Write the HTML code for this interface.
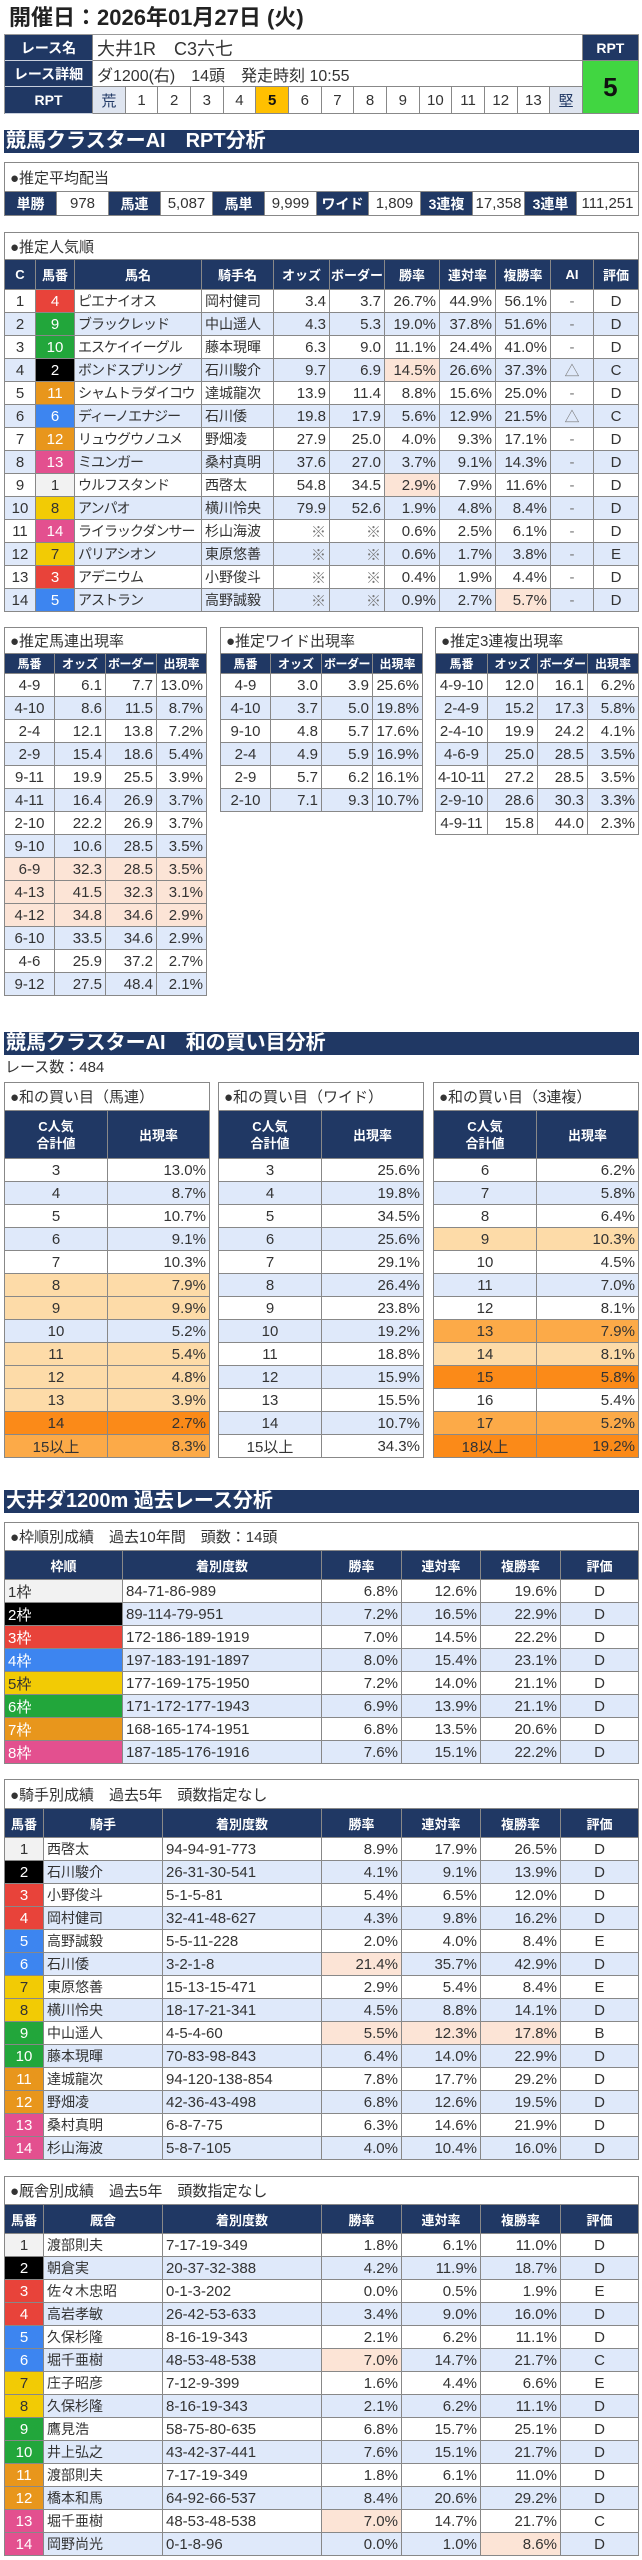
<!DOCTYPE html>
<html><head><meta charset="utf-8">
<style>
*{box-sizing:border-box;margin:0;padding:0}
body{width:642px;height:2560px;position:relative;background:#fff;font-family:"Liberation Sans","Noto Sans CJK JP",sans-serif;color:#333;overflow:hidden}
.a{position:absolute}
.g{position:absolute;display:grid;border-top:1px solid #888;border-left:1px solid #888}
.g>div{border-right:1px solid #888;border-bottom:1px solid #888;display:flex;align-items:center;justify-content:center;white-space:nowrap;overflow:hidden;font-size:15px;background:#fff}
.g>.t{grid-column:1/-1;justify-content:flex-start;padding-left:5px;font-size:15px;color:#333}
.g>.h{background:#203864;color:#fff;font-weight:bold;font-size:13px}
.g>.l{justify-content:flex-start;padding-left:3px}
.g>.r{justify-content:flex-end;padding-right:3px}
.g>.b{background:#dfe9fa}
.g>.p{background:#fce4d6}
.g>.o1{background:#fddba8}
.g>.o2{background:#fcaa48}
.g>.o3{background:#fb8a18}
.g>.w1{background:#f2f2f2;color:#333}
.g>.w2{background:#000;color:#fff}
.g>.w3{background:#e8433a;color:#fff}
.g>.w4{background:#3d85f0;color:#fff}
.g>.w5{background:#f2cb05;color:#333}
.g>.w6{background:#22a63b;color:#fff}
.g>.w7{background:#e8961c;color:#fff}
.g>.w8{background:#e3508f;color:#fff}
.g>.k{font-size:14px}
.g>.n{font-size:14px;letter-spacing:-1px}
.g>.d{color:#777}
.g>.rk{background:#dfe5f0;color:#203864}
.g>.y{background:#ffc000;font-weight:bold;color:#111}
.g>.hl{font-size:14px;border-bottom-color:#c8cfdc}
.bar{position:absolute;left:4px;width:635px;height:23px;background:#203864;color:#fff;font-weight:bold;font-size:20px;line-height:23px;padding-left:2px;white-space:nowrap}
.two{display:block;text-align:center;line-height:17px}
</style></head><body>

<div class="a" style="top:5px;left:9px;font-size:22px;font-weight:bold;line-height:26px;color:#222;white-space:nowrap">開催日：2026年01月27日 (火)</div>

<div class="g" style="top:34px;left:4px;grid-template-columns:88px repeat(15,32.667px) 56px;grid-template-rows:26px 26px 27px;border-color:#999">
<div class="h hl">レース名</div>
<div class="l" style="grid-column:span 15;font-size:18px;padding-left:4px">大井1R　C3六七</div>
<div class="h" style="font-size:14px">RPT</div>
<div class="h hl">レース詳細</div>
<div class="l" style="grid-column:span 15;font-size:16px;padding-left:4px">ダ1200(右)　14頭　発走時刻 10:55</div>
<div style="grid-row:span 2;background:#41d641;font-size:26px;font-weight:bold;color:#111">5</div>
<div class="h hl">RPT</div>
<div class="rk">荒</div><div>1</div><div>2</div><div>3</div><div>4</div><div class="y">5</div><div>6</div><div>7</div><div>8</div><div>9</div><div>10</div><div>11</div><div>12</div><div>13</div><div class="rk">堅</div>
</div>

<div class="bar" style="top:130px">競馬クラスターAI　RPT分析</div>

<div class="g" style="top:162px;left:4px;grid-template-columns:repeat(11,52px) 62px;grid-template-rows:29px 24px">
<div class="t">●推定平均配当</div>
<div class="h" style="font-size:14px">単勝</div><div>978</div><div class="h" style="font-size:14px">馬連</div><div>5,087</div><div class="h" style="font-size:14px">馬単</div><div>9,999</div><div class="h" style="font-size:14px">ワイド</div><div>1,809</div><div class="h" style="font-size:14px">3連複</div><div>17,358</div><div class="h" style="font-size:14px">3連単</div><div>111,251</div>
</div>

<div class="g" style="top:232px;left:4px;grid-template-columns:31px 39px 127px 72px 56px 55px 55px 56px 55px 43px 45px;grid-template-rows:27px 30px repeat(14,23px)">
<div class="t">●推定人気順</div>
<div class="h">C</div><div class="h">馬番</div><div class="h">馬名</div><div class="h">騎手名</div><div class="h">オッズ</div><div class="h">ボーダー</div><div class="h">勝率</div><div class="h">連対率</div><div class="h">複勝率</div><div class="h">AI</div><div class="h">評価</div>

<div>1</div><div class="w3">4</div><div class="l n">ピエナイオス</div><div class="l k">岡村健司</div><div class="r">3.4</div><div class="r">3.7</div><div class="r">26.7%</div><div class="r">44.9%</div><div class="r">56.1%</div><div class="d">-</div><div>D</div>

<div class="b">2</div><div class="w6">9</div><div class="l n b">ブラックレッド</div><div class="l k b">中山遥人</div><div class="r b">4.3</div><div class="r b">5.3</div><div class="r b">19.0%</div><div class="r b">37.8%</div><div class="r b">51.6%</div><div class="d b">-</div><div class="b">D</div>

<div>3</div><div class="w6">10</div><div class="l n">エスケイイーグル</div><div class="l k">藤本現暉</div><div class="r">6.3</div><div class="r">9.0</div><div class="r">11.1%</div><div class="r">24.4%</div><div class="r">41.0%</div><div class="d">-</div><div>D</div>

<div class="b">4</div><div class="w2">2</div><div class="l n b">ボンドスプリング</div><div class="l k b">石川駿介</div><div class="r b">9.7</div><div class="r b">6.9</div><div class="r p">14.5%</div><div class="r b">26.6%</div><div class="r b">37.3%</div><div class="d b">△</div><div class="b">C</div>

<div>5</div><div class="w7">11</div><div class="l n">シャムトラダイコウ</div><div class="l k">達城龍次</div><div class="r">13.9</div><div class="r">11.4</div><div class="r">8.8%</div><div class="r">15.6%</div><div class="r">25.0%</div><div class="d">-</div><div>D</div>

<div class="b">6</div><div class="w4">6</div><div class="l n b">ディーノエナジー</div><div class="l k b">石川倭</div><div class="r b">19.8</div><div class="r b">17.9</div><div class="r b">5.6%</div><div class="r b">12.9%</div><div class="r b">21.5%</div><div class="d b">△</div><div class="b">C</div>

<div>7</div><div class="w7">12</div><div class="l n">リュウグウノユメ</div><div class="l k">野畑凌</div><div class="r">27.9</div><div class="r">25.0</div><div class="r">4.0%</div><div class="r">9.3%</div><div class="r">17.1%</div><div class="d">-</div><div>D</div>

<div class="b">8</div><div class="w8">13</div><div class="l n b">ミユンガー</div><div class="l k b">桑村真明</div><div class="r b">37.6</div><div class="r b">27.0</div><div class="r b">3.7%</div><div class="r b">9.1%</div><div class="r b">14.3%</div><div class="d b">-</div><div class="b">D</div>

<div>9</div><div class="w1">1</div><div class="l n">ウルフスタンド</div><div class="l k">西啓太</div><div class="r">54.8</div><div class="r">34.5</div><div class="r p">2.9%</div><div class="r">7.9%</div><div class="r">11.6%</div><div class="d">-</div><div>D</div>

<div class="b">10</div><div class="w5">8</div><div class="l n b">アンパオ</div><div class="l k b">横川怜央</div><div class="r b">79.9</div><div class="r b">52.6</div><div class="r b">1.9%</div><div class="r b">4.8%</div><div class="r b">8.4%</div><div class="d b">-</div><div class="b">D</div>

<div>11</div><div class="w8">14</div><div class="l n">ライラックダンサー</div><div class="l k">杉山海波</div><div class="r d">※</div><div class="r d">※</div><div class="r">0.6%</div><div class="r">2.5%</div><div class="r">6.1%</div><div class="d">-</div><div>D</div>

<div class="b">12</div><div class="w5">7</div><div class="l n b">パリアシオン</div><div class="l k b">東原悠善</div><div class="r d b">※</div><div class="r d b">※</div><div class="r b">0.6%</div><div class="r b">1.7%</div><div class="r b">3.8%</div><div class="d b">-</div><div class="b">E</div>

<div>13</div><div class="w3">3</div><div class="l n">アデニウム</div><div class="l k">小野俊斗</div><div class="r d">※</div><div class="r d">※</div><div class="r">0.4%</div><div class="r">1.9%</div><div class="r">4.4%</div><div class="d">-</div><div>D</div>

<div class="b">14</div><div class="w4">5</div><div class="l n b">アストラン</div><div class="l k b">高野誠毅</div><div class="r d b">※</div><div class="r d b">※</div><div class="r b">0.9%</div><div class="r b">2.7%</div><div class="r p">5.7%</div><div class="d b">-</div><div class="b">D</div>
</div>

<!-- small tables -->
<div class="g" style="top:627px;left:4px;grid-template-columns:50px 51px 51px 50px;grid-template-rows:26px 20px repeat(14,23px)">
<div class="t">●推定馬連出現率</div>
<div class="h" style="font-size:12px">馬番</div><div class="h" style="font-size:12px">オッズ</div><div class="h" style="font-size:12px;letter-spacing:-0.5px">ボーダー</div><div class="h" style="font-size:12px">出現率</div>
<div>4-9</div><div class="r">6.1</div><div class="r">7.7</div><div class="r">13.0%</div>
<div class="b">4-10</div><div class="r b">8.6</div><div class="r b">11.5</div><div class="r b">8.7%</div>
<div>2-4</div><div class="r">12.1</div><div class="r">13.8</div><div class="r">7.2%</div>
<div class="b">2-9</div><div class="r b">15.4</div><div class="r b">18.6</div><div class="r b">5.4%</div>
<div>9-11</div><div class="r">19.9</div><div class="r">25.5</div><div class="r">3.9%</div>
<div class="b">4-11</div><div class="r b">16.4</div><div class="r b">26.9</div><div class="r b">3.7%</div>
<div>2-10</div><div class="r">22.2</div><div class="r">26.9</div><div class="r">3.7%</div>
<div class="b">9-10</div><div class="r b">10.6</div><div class="r b">28.5</div><div class="r b">3.5%</div>
<div class="p">6-9</div><div class="r p">32.3</div><div class="r p">28.5</div><div class="r p">3.5%</div>
<div class="p">4-13</div><div class="r p">41.5</div><div class="r p">32.3</div><div class="r p">3.1%</div>
<div class="p">4-12</div><div class="r p">34.8</div><div class="r p">34.6</div><div class="r p">2.9%</div>
<div class="b">6-10</div><div class="r b">33.5</div><div class="r b">34.6</div><div class="r b">2.9%</div>
<div>4-6</div><div class="r">25.9</div><div class="r">37.2</div><div class="r">2.7%</div>
<div class="b">9-12</div><div class="r b">27.5</div><div class="r b">48.4</div><div class="r b">2.1%</div>
</div>

<div class="g" style="top:627px;left:220px;grid-template-columns:50px 51px 51px 50px;grid-template-rows:26px 20px repeat(6,23px)">
<div class="t">●推定ワイド出現率</div>
<div class="h" style="font-size:12px">馬番</div><div class="h" style="font-size:12px">オッズ</div><div class="h" style="font-size:12px;letter-spacing:-0.5px">ボーダー</div><div class="h" style="font-size:12px">出現率</div>
<div>4-9</div><div class="r">3.0</div><div class="r">3.9</div><div class="r">25.6%</div>
<div class="b">4-10</div><div class="r b">3.7</div><div class="r b">5.0</div><div class="r b">19.8%</div>
<div>9-10</div><div class="r">4.8</div><div class="r">5.7</div><div class="r">17.6%</div>
<div class="b">2-4</div><div class="r b">4.9</div><div class="r b">5.9</div><div class="r b">16.9%</div>
<div>2-9</div><div class="r">5.7</div><div class="r">6.2</div><div class="r">16.1%</div>
<div class="b">2-10</div><div class="r b">7.1</div><div class="r b">9.3</div><div class="r b">10.7%</div>
</div>

<div class="g" style="top:627px;left:435px;grid-template-columns:52px 50px 50px 51px;grid-template-rows:26px 20px repeat(7,23px)">
<div class="t">●推定3連複出現率</div>
<div class="h" style="font-size:12px">馬番</div><div class="h" style="font-size:12px">オッズ</div><div class="h" style="font-size:12px;letter-spacing:-0.5px">ボーダー</div><div class="h" style="font-size:12px">出現率</div>
<div>4-9-10</div><div class="r">12.0</div><div class="r">16.1</div><div class="r">6.2%</div>
<div class="b">2-4-9</div><div class="r b">15.2</div><div class="r b">17.3</div><div class="r b">5.8%</div>
<div>2-4-10</div><div class="r">19.9</div><div class="r">24.2</div><div class="r">4.1%</div>
<div class="b">4-6-9</div><div class="r b">25.0</div><div class="r b">28.5</div><div class="r b">3.5%</div>
<div style="letter-spacing:-0.5px">4-10-11</div><div class="r">27.2</div><div class="r">28.5</div><div class="r">3.5%</div>
<div class="b">2-9-10</div><div class="r b">28.6</div><div class="r b">30.3</div><div class="r b">3.3%</div>
<div>4-9-11</div><div class="r">15.8</div><div class="r">44.0</div><div class="r">2.3%</div>
</div>

<div class="bar" style="top:1032px">競馬クラスターAI　和の買い目分析</div>
<div class="a" style="top:1058px;left:5px;font-size:15px;line-height:20px">レース数：484</div>

<div class="g" style="top:1082px;left:4px;grid-template-columns:103px 102px;grid-template-rows:28px 48px repeat(13,23px)">
<div class="t">●和の買い目（馬連）</div>
<div class="h"><span class="two">C人気<br>合計値</span></div><div class="h">出現率</div>
<div>3</div><div class="r">13.0%</div>
<div class="b">4</div><div class="r b">8.7%</div>
<div>5</div><div class="r">10.7%</div>
<div class="b">6</div><div class="r b">9.1%</div>
<div>7</div><div class="r">10.3%</div>
<div class="o1">8</div><div class="r o1">7.9%</div>
<div class="o1">9</div><div class="r o1">9.9%</div>
<div class="b">10</div><div class="r b">5.2%</div>
<div class="o1">11</div><div class="r o1">5.4%</div>
<div class="o1">12</div><div class="r o1">4.8%</div>
<div class="o1">13</div><div class="r o1">3.9%</div>
<div class="o3">14</div><div class="r o3">2.7%</div>
<div class="o2">15以上</div><div class="r o2">8.3%</div>
</div>

<div class="g" style="top:1082px;left:218px;grid-template-columns:103px 102px;grid-template-rows:28px 48px repeat(13,23px)">
<div class="t">●和の買い目（ワイド）</div>
<div class="h"><span class="two">C人気<br>合計値</span></div><div class="h">出現率</div>
<div>3</div><div class="r">25.6%</div>
<div class="b">4</div><div class="r b">19.8%</div>
<div>5</div><div class="r">34.5%</div>
<div class="b">6</div><div class="r b">25.6%</div>
<div>7</div><div class="r">29.1%</div>
<div class="b">8</div><div class="r b">26.4%</div>
<div>9</div><div class="r">23.8%</div>
<div class="b">10</div><div class="r b">19.2%</div>
<div>11</div><div class="r">18.8%</div>
<div class="b">12</div><div class="r b">15.9%</div>
<div>13</div><div class="r">15.5%</div>
<div class="b">14</div><div class="r b">10.7%</div>
<div>15以上</div><div class="r">34.3%</div>
</div>

<div class="g" style="top:1082px;left:433px;grid-template-columns:103px 102px;grid-template-rows:28px 48px repeat(13,23px)">
<div class="t">●和の買い目（3連複）</div>
<div class="h"><span class="two">C人気<br>合計値</span></div><div class="h">出現率</div>
<div>6</div><div class="r">6.2%</div>
<div class="b">7</div><div class="r b">5.8%</div>
<div>8</div><div class="r">6.4%</div>
<div class="o1">9</div><div class="r o1">10.3%</div>
<div>10</div><div class="r">4.5%</div>
<div class="b">11</div><div class="r b">7.0%</div>
<div>12</div><div class="r">8.1%</div>
<div class="o2">13</div><div class="r o2">7.9%</div>
<div class="o1">14</div><div class="r o1">8.1%</div>
<div class="o3">15</div><div class="r o3">5.8%</div>
<div>16</div><div class="r">5.4%</div>
<div class="o2">17</div><div class="r o2">5.2%</div>
<div class="o3">18以上</div><div class="r o3">19.2%</div>
</div>

<div class="bar" style="top:1490px">大井ダ1200m 過去レース分析</div>

<div class="g" style="top:1522px;left:4px;grid-template-columns:118px 199px 80px 79px 80px 78px;grid-template-rows:28px 29px repeat(8,23px)">
<div class="t">●枠順別成績　過去10年間　頭数：14頭</div>
<div class="h">枠順</div><div class="h">着別度数</div><div class="h">勝率</div><div class="h">連対率</div><div class="h">複勝率</div><div class="h">評価</div>
<div class="l w1">1枠</div><div class="l">84-71-86-989</div><div class="r">6.8%</div><div class="r">12.6%</div><div class="r">19.6%</div><div>D</div>
<div class="l w2">2枠</div><div class="l b">89-114-79-951</div><div class="r b">7.2%</div><div class="r b">16.5%</div><div class="r b">22.9%</div><div class="b">D</div>
<div class="l w3">3枠</div><div class="l">172-186-189-1919</div><div class="r">7.0%</div><div class="r">14.5%</div><div class="r">22.2%</div><div>D</div>
<div class="l w4">4枠</div><div class="l b">197-183-191-1897</div><div class="r b">8.0%</div><div class="r b">15.4%</div><div class="r b">23.1%</div><div class="b">D</div>
<div class="l w5">5枠</div><div class="l">177-169-175-1950</div><div class="r">7.2%</div><div class="r">14.0%</div><div class="r">21.1%</div><div>D</div>
<div class="l w6">6枠</div><div class="l b">171-172-177-1943</div><div class="r b">6.9%</div><div class="r b">13.9%</div><div class="r b">21.1%</div><div class="b">D</div>
<div class="l w7">7枠</div><div class="l">168-165-174-1951</div><div class="r">6.8%</div><div class="r">13.5%</div><div class="r">20.6%</div><div>D</div>
<div class="l w8">8枠</div><div class="l b">187-185-176-1916</div><div class="r b">7.6%</div><div class="r b">15.1%</div><div class="r b">22.2%</div><div class="b">D</div>
</div>

<div class="g" style="top:1779px;left:4px;grid-template-columns:39px 119px 159px 80px 79px 80px 78px;grid-template-rows:29px 29px repeat(14,23px)">
<div class="t">●騎手別成績　過去5年　頭数指定なし</div>
<div class="h">馬番</div><div class="h">騎手</div><div class="h">着別度数</div><div class="h">勝率</div><div class="h">連対率</div><div class="h">複勝率</div><div class="h">評価</div>
<div class="w1">1</div><div class="l k">西啓太</div><div class="l">94-94-91-773</div><div class="r">8.9%</div><div class="r">17.9%</div><div class="r">26.5%</div><div>D</div>
<div class="w2">2</div><div class="l k b">石川駿介</div><div class="l b">26-31-30-541</div><div class="r b">4.1%</div><div class="r b">9.1%</div><div class="r b">13.9%</div><div class="b">D</div>
<div class="w3">3</div><div class="l k">小野俊斗</div><div class="l">5-1-5-81</div><div class="r">5.4%</div><div class="r">6.5%</div><div class="r">12.0%</div><div>D</div>
<div class="w3">4</div><div class="l k b">岡村健司</div><div class="l b">32-41-48-627</div><div class="r b">4.3%</div><div class="r b">9.8%</div><div class="r b">16.2%</div><div class="b">D</div>
<div class="w4">5</div><div class="l k">高野誠毅</div><div class="l">5-5-11-228</div><div class="r">2.0%</div><div class="r">4.0%</div><div class="r">8.4%</div><div>E</div>
<div class="w4">6</div><div class="l k b">石川倭</div><div class="l b">3-2-1-8</div><div class="r p">21.4%</div><div class="r b">35.7%</div><div class="r b">42.9%</div><div class="b">D</div>
<div class="w5">7</div><div class="l k">東原悠善</div><div class="l">15-13-15-471</div><div class="r">2.9%</div><div class="r">5.4%</div><div class="r">8.4%</div><div>E</div>
<div class="w5">8</div><div class="l k b">横川怜央</div><div class="l b">18-17-21-341</div><div class="r b">4.5%</div><div class="r b">8.8%</div><div class="r b">14.1%</div><div class="b">D</div>
<div class="w6">9</div><div class="l k">中山遥人</div><div class="l">4-5-4-60</div><div class="r p">5.5%</div><div class="r p">12.3%</div><div class="r p">17.8%</div><div>B</div>
<div class="w6">10</div><div class="l k b">藤本現暉</div><div class="l b">70-83-98-843</div><div class="r b">6.4%</div><div class="r b">14.0%</div><div class="r b">22.9%</div><div class="b">D</div>
<div class="w7">11</div><div class="l k">達城龍次</div><div class="l">94-120-138-854</div><div class="r">7.8%</div><div class="r">17.7%</div><div class="r">29.2%</div><div>D</div>
<div class="w7">12</div><div class="l k b">野畑凌</div><div class="l b">42-36-43-498</div><div class="r b">6.8%</div><div class="r b">12.6%</div><div class="r b">19.5%</div><div class="b">D</div>
<div class="w8">13</div><div class="l k">桑村真明</div><div class="l">6-8-7-75</div><div class="r">6.3%</div><div class="r">14.6%</div><div class="r">21.9%</div><div>D</div>
<div class="w8">14</div><div class="l k b">杉山海波</div><div class="l b">5-8-7-105</div><div class="r b">4.0%</div><div class="r b">10.4%</div><div class="r b">16.0%</div><div class="b">D</div>
</div>

<div class="g" style="top:2176px;left:4px;grid-template-columns:39px 119px 159px 80px 79px 80px 78px;grid-template-rows:28px 29px repeat(14,23px)">
<div class="t">●厩舎別成績　過去5年　頭数指定なし</div>
<div class="h">馬番</div><div class="h">厩舎</div><div class="h">着別度数</div><div class="h">勝率</div><div class="h">連対率</div><div class="h">複勝率</div><div class="h">評価</div>
<div class="w1">1</div><div class="l k">渡部則夫</div><div class="l">7-17-19-349</div><div class="r">1.8%</div><div class="r">6.1%</div><div class="r">11.0%</div><div>D</div>
<div class="w2">2</div><div class="l k b">朝倉実</div><div class="l b">20-37-32-388</div><div class="r b">4.2%</div><div class="r b">11.9%</div><div class="r b">18.7%</div><div class="b">D</div>
<div class="w3">3</div><div class="l k">佐々木忠昭</div><div class="l">0-1-3-202</div><div class="r">0.0%</div><div class="r">0.5%</div><div class="r">1.9%</div><div>E</div>
<div class="w3">4</div><div class="l k b">高岩孝敏</div><div class="l b">26-42-53-633</div><div class="r b">3.4%</div><div class="r b">9.0%</div><div class="r b">16.0%</div><div class="b">D</div>
<div class="w4">5</div><div class="l k">久保杉隆</div><div class="l">8-16-19-343</div><div class="r">2.1%</div><div class="r">6.2%</div><div class="r">11.1%</div><div>D</div>
<div class="w4">6</div><div class="l k b">堀千亜樹</div><div class="l b">48-53-48-538</div><div class="r p">7.0%</div><div class="r b">14.7%</div><div class="r b">21.7%</div><div class="b">C</div>
<div class="w5">7</div><div class="l k">庄子昭彦</div><div class="l">7-12-9-399</div><div class="r">1.6%</div><div class="r">4.4%</div><div class="r">6.6%</div><div>E</div>
<div class="w5">8</div><div class="l k b">久保杉隆</div><div class="l b">8-16-19-343</div><div class="r b">2.1%</div><div class="r b">6.2%</div><div class="r b">11.1%</div><div class="b">D</div>
<div class="w6">9</div><div class="l k">鷹見浩</div><div class="l">58-75-80-635</div><div class="r">6.8%</div><div class="r">15.7%</div><div class="r">25.1%</div><div>D</div>
<div class="w6">10</div><div class="l k b">井上弘之</div><div class="l b">43-42-37-441</div><div class="r b">7.6%</div><div class="r b">15.1%</div><div class="r b">21.7%</div><div class="b">D</div>
<div class="w7">11</div><div class="l k">渡部則夫</div><div class="l">7-17-19-349</div><div class="r">1.8%</div><div class="r">6.1%</div><div class="r">11.0%</div><div>D</div>
<div class="w7">12</div><div class="l k b">橋本和馬</div><div class="l b">64-92-66-537</div><div class="r b">8.4%</div><div class="r b">20.6%</div><div class="r b">29.2%</div><div class="b">D</div>
<div class="w8">13</div><div class="l k">堀千亜樹</div><div class="l">48-53-48-538</div><div class="r p">7.0%</div><div class="r">14.7%</div><div class="r">21.7%</div><div>C</div>
<div class="w8">14</div><div class="l k b">岡野尚光</div><div class="l b">0-1-8-96</div><div class="r b">0.0%</div><div class="r b">1.0%</div><div class="r p">8.6%</div><div class="b">D</div>
</div>

</body></html>
